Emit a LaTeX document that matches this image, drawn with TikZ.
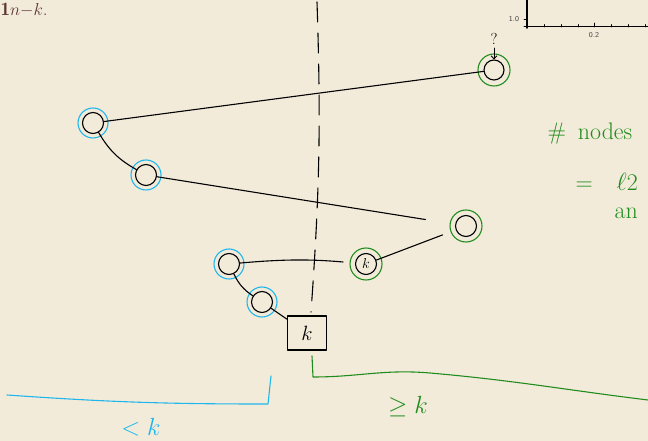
\documentclass[tikz,border=0pt]{standalone}
\usepackage{fontspec}
\usepackage{xcolor}
\usepackage{tikz}
\usetikzlibrary{positioning,calc,arrows.meta,shapes}

\definecolor{paper}{HTML}{F3EBDA}
\definecolor{inkblue}{HTML}{1EB6EC}
\definecolor{inkgreen}{HTML}{218C1E}
\definecolor{brownink}{HTML}{5E3434}

\tikzset{
	vert/.style={circle, draw=black, line width=1.1pt, minimum size=21bp, inner sep=0pt},
	bigtext/.style={font=\fontsize{24}{28}\selectfont},
}

\begin{document}
\begin{tikzpicture}[x=1bp, y=-1bp, line cap=round, line join=round]
		\fill[paper] (0,0) rectangle (648,441);
		\useasboundingbox (0,0) rectangle (648,441);
		% leftover from the page underneath
		\node[anchor=base west, text=brownink, font=\fontsize{19}{22}\selectfont, inner sep=0pt] (title) at (0.5,16) {$\mathbf{1}n{-}k$.};
		\draw[line width=1.6pt] (527,0) -- (527,28);
		\draw[line width=1pt] (524,27) -- (648,27);
		\foreach \t in {544,561,578,611,628,645}
			\draw[line width=0.6pt] (\t,27) -- (\t,24.5);
		\draw[line width=0.7pt] (594,27) -- (594,23);
		\draw[line width=0.7pt] (524,19) -- (527,19);
		\node[font=\sffamily\fontsize{7.5}{8}\selectfont, text=black!75] (ylab) at (514,19) {1.0};
		\node[font=\sffamily\fontsize{7.5}{8}\selectfont, text=black!75] (xlab) at (594,35) {0.2};
		% the cut
		\draw[line width=1.1pt, dash pattern=on 20bp off 11bp] (317,2) to[bend left=3] (311,312);
		% the tree
		\node[vert] (a) at (93,123) {};
		\node[vert] (b) at (146,175) {};
		\node[vert] (c) at (229,264) {};
		\node[vert] (d) at (262,302) {};
		\node[vert, minimum size=20bp] (e) at (494,70) {};
		\node[vert] (f) at (466,226) {};
		\node[vert, font=\fontsize{15}{18}\selectfont] (g) at (366,264) {$k$};
		\node[draw, line width=1.1pt, minimum width=39bp, minimum height=34bp, font=\fontsize{22}{26}\selectfont] (box) at (307,333) {$k$};
		\foreach \n in {a,b,c,d}
			\draw[inkblue, line width=1.1pt] (\n) circle[radius=15bp];
		\foreach \n in {e,f,g}
			\draw[inkgreen, line width=1.1pt] (\n) circle[radius=16bp];
		\node[font=\fontsize{16}{18}\selectfont] (q) at (494,39) {?};
		\draw[-{Straight Barb[length=3bp]}, line width=0.9pt] (q) -- (e);
		\draw[line width=1.1pt] (a) -- (e);
		\draw[line width=1.1pt] (a) to[bend right=15] (b);
		\draw[line width=1.1pt, shorten >=30bp] (b) -- (f);
		\draw[line width=1.1pt, shorten >=12bp] (c) to[bend left=5] (g);
		\draw[line width=1.1pt, shorten >=14bp] (g) -- (f);
		\draw[line width=1.1pt] (c) to[bend right=15] (d);
		\draw[line width=1.1pt] (d) -- (box);
		% brackets
		\coordinate (bl) at (7,395);
		\coordinate (br) at (271,376);
		\draw[inkblue, line width=1.1pt] (bl) to[bend right=2] (268,404) -- (br);
		\node[text=inkblue, font=\fontsize{26}{30}\selectfont] (lt) at (141,427) {$<k$};
		\coordinate (gl) at (312,356);
		\coordinate (gr) at (648,400);
		\draw[inkgreen, line width=1.1pt] (gl) -- (313,377) to[out=0, in=175] (430,373) to[out=-5, in=173] (gr);
		\node[text=inkgreen, font=\fontsize{26}{30}\selectfont] (ge) at (408,407) {$\geq k$};
		% count on the right
		\node[anchor=west, text=inkgreen, bigtext] (cnt) at (544,134) {\#\enspace nodes};
		\node[anchor=west, text=inkgreen, bigtext] (eq) at (572,182) {=\quad$\ell$2};
		\node[anchor=west, text=inkgreen, bigtext] (an) at (611,213) {an};
	\end{tikzpicture}
\end{document}
